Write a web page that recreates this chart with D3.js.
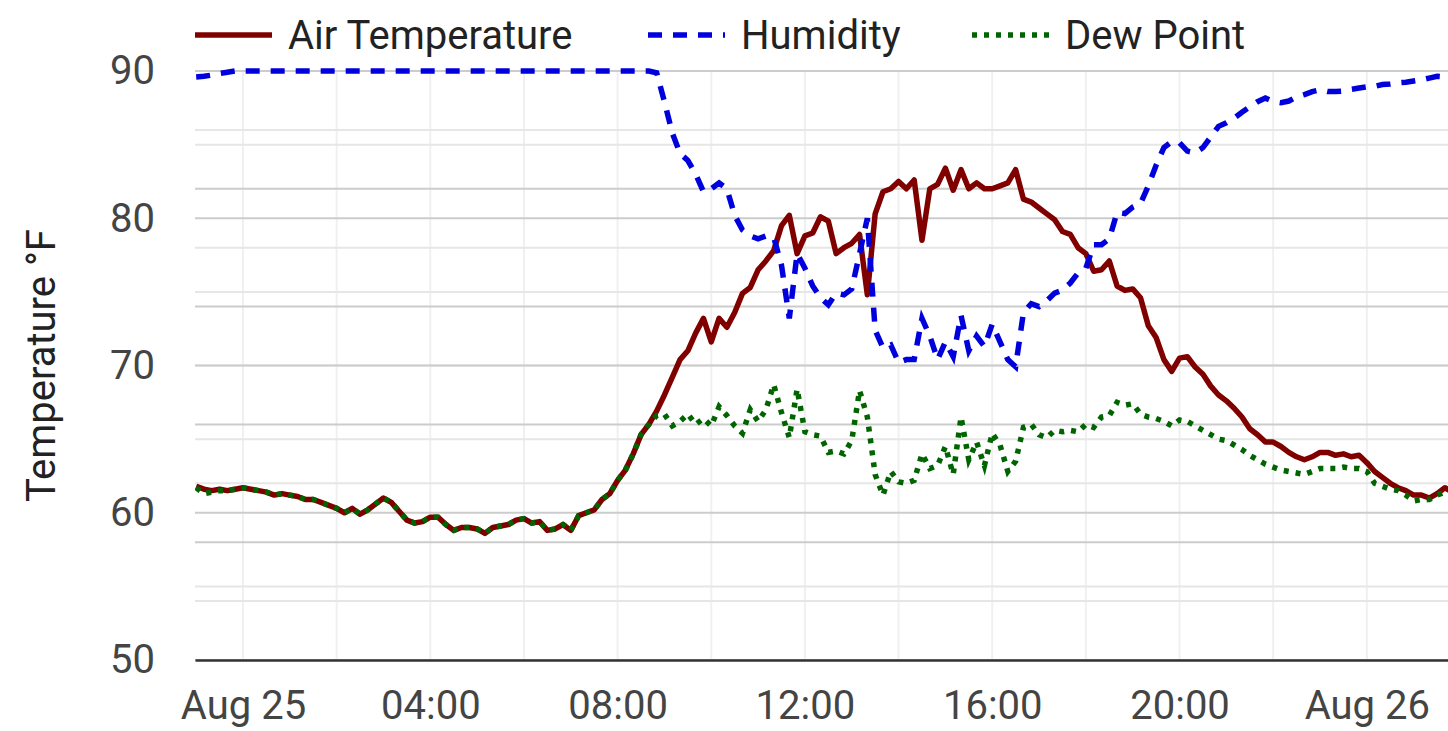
<!DOCTYPE html>
<html>
<head>
<meta charset="utf-8">
<script src="https://cdn.jsdelivr.net/npm/d3@7"></script>
<style>
  html, body { margin: 0; padding: 0; background: #fff; }
  svg { display: block; font-family: Roboto, "Noto Sans", sans-serif; }
</style>
</head>
<body>
<svg id="chart"></svg>
<script>
'use strict';

// readings every 10 minutes, starting 23:00 on Aug 24
const startTime = new Date(2019, 7, 24, 23, 0);
const stepMinutes = 10;

const airTemp = [
	61.8, 61.6, 61.5, 61.6, 61.5, 61.6, 61.7, 61.6, 61.5, 61.4,
	61.2, 61.3, 61.2, 61.1, 60.9, 60.9, 60.7, 60.5, 60.3, 60.0,
	60.3, 59.9, 60.2, 60.6, 61.0, 60.7, 60.1, 59.5, 59.3, 59.4,
	59.7, 59.7, 59.2, 58.8, 59.0, 59.0, 58.9, 58.6, 59.0, 59.1,
	59.2, 59.5, 59.6, 59.3, 59.4, 58.8, 58.9, 59.2, 58.8, 59.8,
	60.0, 60.2, 60.9, 61.3, 62.2, 62.9, 64.0, 65.3, 66.0, 66.9,
	68.0, 69.2, 70.4, 71.0, 72.2, 73.2, 71.6, 73.2, 72.6, 73.6,
	74.9, 75.3, 76.5, 77.1, 77.8, 79.5, 80.2, 77.6, 78.8, 79.0,
	80.1, 79.8, 77.6, 78.0, 78.3, 78.9, 74.8, 80.3, 81.8, 82.0,
	82.5, 82.0, 82.6, 78.5, 82.0, 82.3, 83.4, 81.9, 83.3, 82.0,
	82.4, 82.0, 82.0, 82.2, 82.4, 83.3, 81.3, 81.1, 80.7, 80.3,
	79.9, 79.1, 78.9, 78.0, 77.6, 76.4, 76.5, 77.1, 75.4, 75.1,
	75.2, 74.6, 72.7, 71.9, 70.4, 69.6, 70.5, 70.6, 69.9, 69.4,
	68.6, 68.0, 67.6, 67.1, 66.5, 65.7, 65.3, 64.8, 64.8, 64.5,
	64.1, 63.8, 63.6, 63.8, 64.1, 64.1, 63.9, 64.0, 63.8, 63.9,
	63.4, 62.8, 62.4, 62.0, 61.7, 61.5, 61.2, 61.2, 61.0, 61.3,
	61.7, 61.4
];

const humidity = [
	99.0, 99.1, 99.3, 99.6, 99.8, 100, 100, 100, 100, 100,
	100, 100, 100, 100, 100, 100, 100, 100, 100, 100,
	100, 100, 100, 100, 100, 100, 100, 100, 100, 100,
	100, 100, 100, 100, 100, 100, 100, 100, 100, 100,
	100, 100, 100, 100, 100, 100, 100, 100, 100, 100,
	100, 100, 100, 100, 100, 100, 100, 100, 100, 99.7,
	94.8, 89.5, 86.0, 84.8, 82.5, 79.5, 80.0, 81.0, 80.0, 75.5,
	73.0, 72.0, 71.5, 72.0, 71.8, 67.0, 58.0, 69.0, 66.5, 63.5,
	61.5, 60.3, 62.3, 62.0, 63.0, 69.0, 75.0, 56.0, 53.0, 53.5,
	50.5, 51.0, 51.0, 58.0, 55.0, 51.0, 54.0, 51.5, 58.5, 52.5,
	55.0, 53.2, 57.0, 54.0, 51.0, 49.8, 59.0, 60.5, 60.0, 61.0,
	62.3, 62.8, 64.0, 65.7, 66.5, 70.5, 70.5, 71.5, 76.0, 75.8,
	76.9, 77.5, 80.5, 84.0, 87.0, 88.0, 87.8, 86.4, 86.1, 87.0,
	88.8, 90.6, 91.2, 92.0, 93.0, 93.9, 94.8, 95.4, 94.8, 94.6,
	94.9, 95.6, 96.0, 96.5, 96.8, 96.5, 96.5, 96.6, 96.9, 97.1,
	97.3, 97.4, 97.7, 97.8, 98.0, 98.1, 98.3, 98.5, 98.8, 99.1,
	99.0, 99.2
];

const dewPoint = [
	61.7, 61.3, 61.4, 61.5, 61.5, 61.6, 61.7, 61.6, 61.5, 61.4,
	61.2, 61.3, 61.2, 61.1, 60.9, 60.9, 60.7, 60.5, 60.3, 60.0,
	60.3, 59.9, 60.2, 60.6, 61.0, 60.7, 60.1, 59.5, 59.3, 59.4,
	59.7, 59.7, 59.2, 58.8, 59.0, 59.0, 58.9, 58.6, 59.0, 59.1,
	59.2, 59.5, 59.6, 59.3, 59.4, 58.8, 58.9, 59.2, 58.8, 59.8,
	60.0, 60.2, 60.9, 61.3, 62.2, 62.9, 64.0, 65.3, 66.0, 66.6,
	66.7, 65.9, 66.2, 66.7, 66.0, 66.4, 65.9, 67.2, 66.6, 65.9,
	65.4, 67.0, 66.2, 67.0, 68.7, 66.8, 65.1, 68.4, 65.5, 65.3,
	65.2, 64.1, 64.2, 64.0, 64.9, 68.3, 66.5, 62.6, 61.2, 62.8,
	62.1, 62.0, 62.2, 64.0, 63.0, 63.2, 64.5, 62.6, 66.5, 63.6,
	64.8, 63.2, 65.4, 64.6, 62.8, 63.5, 65.8, 66.0, 65.3, 65.1,
	65.6, 65.5, 65.6, 65.5, 66.0, 65.8, 66.5, 66.6, 67.5, 67.3,
	67.4, 66.7, 66.5, 66.4, 66.2, 65.9, 66.3, 66.2, 65.9, 65.6,
	65.3, 65.0, 64.9, 64.6, 64.3, 63.9, 63.6, 63.3, 63.1, 62.9,
	62.8, 62.7, 62.6, 62.8, 63.0, 63.0, 63.0, 63.1, 63.0, 63.0,
	62.8, 62.0, 61.8, 61.6, 61.5, 61.2, 60.8, 60.9, 60.9, 61.2,
	61.4, 61.4
];

const tempTicks = [50, 60, 70, 80, 90];
const seriesNames = ['Air Temperature', 'Humidity', 'Dew Point'];

const opts = {
	width: 1448,
	height: 731,
	left: 195,
	right: 1448,
	top: 71,
	bottom: 660,
	fontSize: 40,
	lineWidth: 5.5
};

const times = airTemp.map((v, i) => d3.timeMinute.offset(startTime, i * stepMinutes));

const svg = d3.select('#chart')
	.attr('width', opts.width)
	.attr('height', opts.height);

const x = d3.scaleTime()
	.domain([new Date(2019, 7, 24, 22, 58, 30), new Date(2019, 7, 26, 1, 44)])
	.range([opts.left, opts.right]);

const y = d3.scaleLinear().domain([50, 90]).range([opts.bottom, opts.top]);
// humidity sits on a hidden secondary axis, 0 to 100 %
const yHum = d3.scaleLinear().domain([0, 100]).range([opts.bottom, opts.top]);

// horizontal grid, minor then major
const grid = svg.append('g').attr('class', 'grid');

const hLine = (yy, color) => {
	grid.append('line')
		.attr('x1', opts.left).attr('x2', opts.right)
		.attr('y1', yy).attr('y2', yy)
		.attr('stroke', color)
		.attr('stroke-width', 2);
};

// vertical grid every 2 hours
x.ticks(d3.timeHour.every(2)).forEach(t => {
	grid.append('line')
		.attr('x1', x(t)).attr('x2', x(t))
		.attr('y1', opts.top).attr('y2', opts.bottom)
		.attr('stroke', '#f0f0f0')
		.attr('stroke-width', 2);
});

y.ticks(8).filter(v => v % 10 !== 0).forEach(v => hLine(y(v), '#e6e6e6'));
yHum.ticks(10).filter(v => v % 20 !== 0).forEach(v => hLine(yHum(v), '#e6e6e6'));
yHum.ticks(5).forEach(v => hLine(yHum(v), '#cccccc'));
tempTicks.forEach(v => hLine(y(v), '#cccccc'));

// lines
svg.append('clipPath').attr('id', 'plot-clip')
	.append('rect')
	.attr('x', opts.left).attr('y', 0)
	.attr('width', opts.right - opts.left).attr('height', opts.bottom);

const plot = svg.append('g').attr('clip-path', 'url(#plot-clip)');

const tempLine = d3.line().x((d, i) => x(times[i])).y(d => y(d));
const humLine = d3.line().x((d, i) => x(times[i])).y(d => yHum(d));

const styles = [
	{ color: '#800000', dash: null },
	{ color: '#0000dd', dash: '14,11' },
	{ color: '#006400', dash: '5,7' }
];

plot.append('path')
	.attr('d', tempLine(airTemp))
	.attr('fill', 'none')
	.attr('stroke', styles[0].color)
	.attr('stroke-width', opts.lineWidth)
	.attr('stroke-linejoin', 'round');

plot.append('path')
	.attr('d', humLine(humidity))
	.attr('fill', 'none')
	.attr('stroke', styles[1].color)
	.attr('stroke-width', opts.lineWidth)
	.attr('stroke-dasharray', styles[1].dash);

plot.append('path')
	.attr('d', tempLine(dewPoint))
	.attr('fill', 'none')
	.attr('stroke', styles[2].color)
	.attr('stroke-width', opts.lineWidth)
	.attr('stroke-dasharray', styles[2].dash);

// x axis
const xAxis = svg.append('g')
	.attr('transform', `translate(0, ${opts.bottom})`)
	.call(d3.axisBottom(x)
		.ticks(d3.timeHour.every(4))
		.tickSize(0)
		.tickPadding(31)
		.tickFormat(d => d3.timeDay(d) < d ? d3.timeFormat('%H:%M')(d) : d3.timeFormat('%b %d')(d)));

xAxis.select('.domain').attr('stroke', '#333').attr('stroke-width', 2.5);
xAxis.selectAll('text')
	.attr('fill', '#444')
	.style('font-size', opts.fontSize + 'px')
	.style('font-family', 'Roboto');

// y axis (labels only)
const yAxis = svg.append('g')
	.attr('transform', `translate(${opts.left}, 0)`)
	.call(d3.axisLeft(y).tickValues(tempTicks).tickSize(0).tickPadding(40));

yAxis.select('.domain').remove();
yAxis.selectAll('text')
	.attr('fill', '#444')
	.style('font-size', opts.fontSize + 'px')
	.style('font-family', 'Roboto');

svg.append('text')
	.attr('transform', `translate(55, ${(opts.top + opts.bottom) / 2}) rotate(-90)`)
	.attr('text-anchor', 'middle')
	.attr('fill', '#222')
	.style('font-size', opts.fontSize + 'px')
	.text('Temperature °F');

// legend
const legendX = [195, 648, 972];
const legend = svg.append('g').attr('class', 'legend');

seriesNames.forEach((name, i) => {
	const item = legend.append('g').attr('transform', `translate(${legendX[i]}, 35)`);
	item.append('line')
		.attr('x1', 0).attr('x2', 77)
		.attr('stroke', styles[i].color)
		.attr('stroke-width', opts.lineWidth)
		.attr('stroke-dasharray', styles[i].dash);
	item.append('text')
		.attr('x', 93)
		.attr('dy', '0.36em')
		.attr('fill', '#222')
		.style('font-size', opts.fontSize + 'px')
		.text(name);
});
</script>
</body>
</html>
